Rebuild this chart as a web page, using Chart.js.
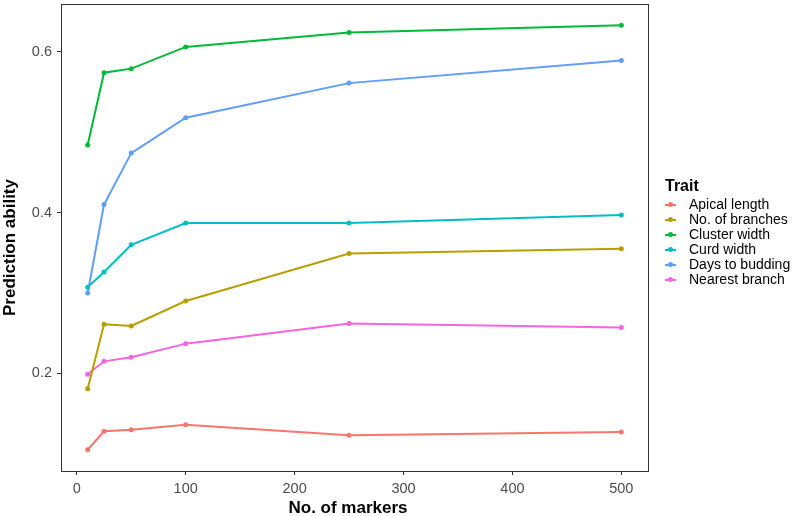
<!DOCTYPE html>
<html>
<head>
<meta charset="utf-8">
<script src="https://cdn.jsdelivr.net/npm/chart.js@4"></script>
<style>
  body { margin: 0; background: #fff; font-family: "Liberation Sans", Arial, sans-serif; }
  #wrap { position: relative; width: 792px; height: 516px; }
  #legend { position: absolute; left: 665px; top: 177px; color: #000; }
  #legend .title { font-weight: bold; font-size: 16px; height: 18px; line-height: 18px; margin-bottom: 2px; }
  #legend .item { height: 15px; line-height: 15px; font-size: 14px; display: flex; align-items: center; white-space: nowrap; }
  #legend .key { position: relative; width: 11px; height: 15px; margin-right: 13px; }
  #legend .key .ln { position: absolute; left: 0; top: 6.5px; width: 11px; height: 2px; }
  #legend .key .pt { position: absolute; left: 3px; top: 5px; width: 5px; height: 5px; border-radius: 50%; }
</style>
</head>
<body>
<div id="wrap">
  <canvas id="chart" width="792" height="516"></canvas>
  <div id="legend"></div>
</div>
<script>
const markers = [10, 25, 50, 100, 250, 500];
const traits = ['Apical length', 'No. of branches', 'Cluster width', 'Curd width', 'Days to budding', 'Nearest branch'];
const colors = ['#F8766D', '#B79F00', '#00BA38', '#00BFC4', '#619CFF', '#F564E3'];

const apicalLength   = [0.105, 0.128, 0.130, 0.136, 0.123, 0.127];
const noOfBranches   = [0.181, 0.261, 0.259, 0.290, 0.349, 0.355];
const clusterWidth   = [0.484, 0.574, 0.579, 0.606, 0.624, 0.633];
const curdWidth      = [0.307, 0.326, 0.360, 0.387, 0.387, 0.397];
const daysToBudding  = [0.300, 0.410, 0.474, 0.518, 0.561, 0.589];
const nearestBranch  = [0.199, 0.215, 0.220, 0.237, 0.262, 0.257];

const xTicks = [0, 100, 200, 300, 400, 500];
const yTicks = [0.2, 0.4, 0.6];

const seriesValues = [apicalLength, noOfBranches, clusterWidth, curdWidth, daysToBudding, nearestBranch];

const datasets = traits.map((name, i) => ({
    label: name,
    data: markers.map((m, j) => ({ x: m, y: seriesValues[i][j] })),
    borderColor: colors[i],
    backgroundColor: colors[i],
    borderWidth: 2,
    pointRadius: 2.5,
    pointBorderWidth: 0,
    tension: 0,
}));

const fam = '"Liberation Sans", Arial, sans-serif';
const tickFont = { family: fam, size: 14.5 };

// panel border and axis titles, placed like the ggplot original
const panelBorder = {
    id: 'panelBorder',
    afterDraw(chart) {
        const a = chart.chartArea;
        const c = chart.ctx;
        c.save();
        c.strokeStyle = '#333';
        c.lineWidth = 1;
        c.strokeRect(a.left + 0.5, a.top + 0.5, a.right - a.left, a.bottom - a.top);

        c.fillStyle = '#000';
        c.font = 'bold 17px ' + fam;
        c.textAlign = 'center';
        c.textBaseline = 'alphabetic';
        c.fillText('No. of markers', 348, 513);

        c.translate(15, 247.5);
        c.rotate(-Math.PI / 2);
        c.fillText('Prediction ability', 0, 0);
        c.restore();
    },
};

const ctx = document.getElementById('chart').getContext('2d');
const chart = new Chart(ctx, {
    type: 'line',
    data: { datasets: datasets },
    options: {
        responsive: false,
        animation: false,
        layout: { padding: { left: 0, right: 144, top: 2, bottom: 0 } },
        plugins: { legend: { display: false }, tooltip: { enabled: false } },
        scales: {
            x: {
                type: 'linear',
                min: -14.5,
                max: 524.5,
                afterBuildTicks: (s) => { s.ticks = xTicks.map(v => ({ value: v })); },
                afterFit: (s) => { s.height = 45; s.paddingLeft = 0; s.paddingRight = 0; },
                grid: { drawOnChartArea: false, drawTicks: true, tickLength: 4, color: '#333' },
                border: { display: false },
                ticks: { color: '#4d4d4d', font: tickFont, padding: 5, maxRotation: 0 },
            },
            y: {
                type: 'linear',
                min: 0.0786,
                max: 0.6594,
                afterBuildTicks: (s) => { s.ticks = yTicks.map(v => ({ value: v })); },
                afterFit: (s) => { s.width = 61; s.paddingTop = 0; s.paddingBottom = 0; },
                grid: { drawOnChartArea: false, drawTicks: true, tickLength: 4, color: '#333' },
                border: { display: false },
                ticks: { color: '#4d4d4d', font: tickFont, padding: 5, callback: (v) => v.toFixed(1) },
            },
        },
    },
    plugins: [panelBorder],
});

// legend as html text
const legend = document.getElementById('legend');
let html = '<div class="title">Trait</div>';
traits.forEach((t, i) => {
    html += '<div class="item"><span class="key"><span class="ln" style="background:' + colors[i] +
        '"></span><span class="pt" style="background:' + colors[i] + '"></span></span>' + t + '</div>';
});
legend.innerHTML = html;
</script>
</body>
</html>
